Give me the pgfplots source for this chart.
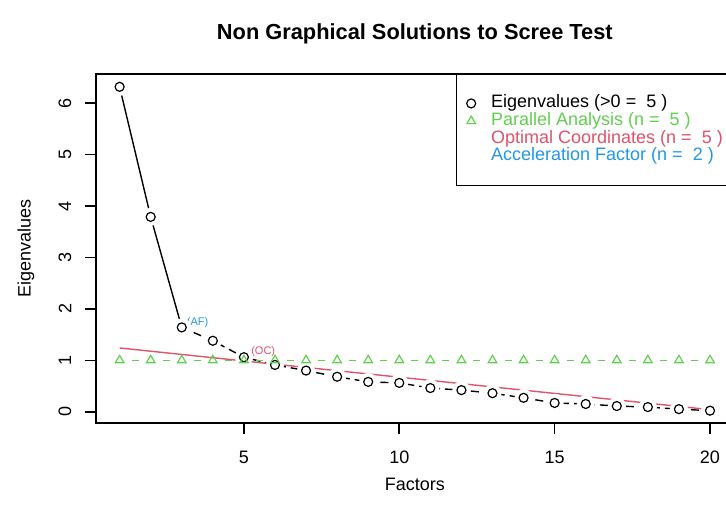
\documentclass[border=0pt]{standalone}
\usepackage{fontspec}
\setmainfont{Liberation Sans}
\usepackage{pgfplots}
\pgfplotsset{compat=1.18}

\definecolor{rred}{HTML}{DF536B}
\definecolor{rgreen}{HTML}{61D04F}
\definecolor{rblue}{HTML}{2297E6}

\pgfplotstableread{
x eig par
1 6.32 1.00
2 3.79 1.00
3 1.64 1.00
4 1.38 1.00
5 1.06 1.00
6 0.91 1.00
7 0.80 1.00
8 0.68 1.00
9 0.58 1.00
10 0.56 1.00
11 0.46 1.00
12 0.42 1.00
13 0.36 1.00
14 0.27 1.00
15 0.17 1.00
16 0.15 1.00
17 0.11 1.00
18 0.09 1.00
19 0.05 1.00
20 0.02 1.00
}\scree

\begin{document}
\begin{tikzpicture}
\useasboundingbox (0,0) rectangle (363pt,255pt);
\clip (0,0) rectangle (363pt,255pt);
\begin{axis}[
    at={(48pt,43.5pt)}, anchor=south west,
    scale only axis, width=318.8pt, height=174.5pt,
    xmin=0.24, xmax=20.76, ymin=-0.22, ymax=6.57,
    xtick={5,10,15,20}, ytick={0,1,2,3,4,5,6},
    xtick pos=lower, ytick pos=lower,
    tick align=outside, major tick length=5.5pt,
    axis line style={line width=0.6pt},
    major tick style={line width=0.8pt, black},
    /pgf/number format/assume math mode=true,
    tick label style={font=\fontsize{9}{10.8}\selectfont},
    xticklabel style={anchor=north, inner sep=0pt, yshift=-8.5pt},
    yticklabel style={xshift=-10pt, rotate=90, anchor=center},
    title={Non Graphical Solutions to Scree Test},
    title style={font=\bfseries\fontsize{10.9}{13}\selectfont, at={(0.5,1.0814)}, anchor=center},
    xlabel={Factors},
    xlabel style={font=\fontsize{9}{10.8}\selectfont, at={(0.5,-0.1762)}, anchor=center},
    ylabel={Eigenvalues},
    ylabel style={font=\fontsize{9}{10.8}\selectfont, at={(-0.11,0.5)}, anchor=center},
    legend cell align=left,
    legend style={at={(0.5646,1)}, anchor=north west, draw=black, line width=0.6pt,
        inner xsep=0pt, inner ysep=10pt, row sep=0pt,
        font=\fontsize{9}{10.8}\selectfont,
        nodes={inner sep=0pt, text height=6.6pt, text depth=2.25pt}},
    legend image code/.code={\path (-7pt,0pt) (9.7pt,0pt);
        \draw[#1] plot coordinates {(0pt,0pt)};},
]
% eigenvalues: solid up to the AF point, dashed after
\addplot[black, line width=0.7pt, no marks, forget plot,
    restrict x to domain=1:3] table[x=x, y=eig] {\scree};
\addplot[black, line width=0.7pt, no marks, forget plot,
    dash pattern=on 4pt off 2.5pt,
    restrict x to domain=3:20] table[x=x, y=eig] {\scree};
% gaps round the points, as type "b" in R
\addplot[only marks, mark=*, mark size=4.3pt, forget plot,
    mark options={draw=white, fill=white}] table[x=x, y=eig] {\scree};
\addplot[only marks, mark=o, mark size=2.25pt, black, forget plot,
    mark options={line width=0.6pt}] table[x=x, y=eig] {\scree};
% parallel analysis
\addplot[rgreen, line width=0.7pt, no marks, forget plot,
    dash pattern=on 3.5pt off 12.036pt, dash phase=9.518pt] table[x=x, y=par] {\scree};
\addplot[only marks, mark=triangle, mark size=2.5pt, rgreen, forget plot,
    mark options={line width=0.6pt}] table[x=x, y=par] {\scree};
% optimal coordinates line
\addplot[rred, line width=0.7pt, no marks, forget plot] coordinates {(1,1.24) (20,0.04)};

\node[anchor=south west, inner sep=0pt, xshift=2.4pt, yshift=-0.6pt, text=rblue,
    font=\fontsize{5.5}{6}\selectfont] at (axis cs:3,1.64) {(AF)};
\node[anchor=south west, inner sep=0pt, xshift=3.5pt, text=rred,
    font=\fontsize{5.5}{6}\selectfont] at (axis cs:5,1.06) {(OC)};

\addlegendimage{only marks, mark=o, mark size=2.25pt, black, mark options={line width=0.6pt}}
\addlegendentry{Eigenvalues (>0 =\ \ 5 )}
\addlegendimage{only marks, mark=triangle, mark size=2.5pt, rgreen, mark options={line width=0.6pt}}
\addlegendentry{\textcolor{rgreen}{Parallel Analysis (n =\ \ 5 )}}
\addlegendimage{empty legend}
\addlegendentry{\textcolor{rred}{Optimal Coordinates (n =\ \ 5 )\hspace*{16pt}}}
\addlegendimage{empty legend}
\addlegendentry{\textcolor{rblue}{Acceleration Factor (n =\ \ 2 )}}
\end{axis}
\end{tikzpicture}
\end{document}
